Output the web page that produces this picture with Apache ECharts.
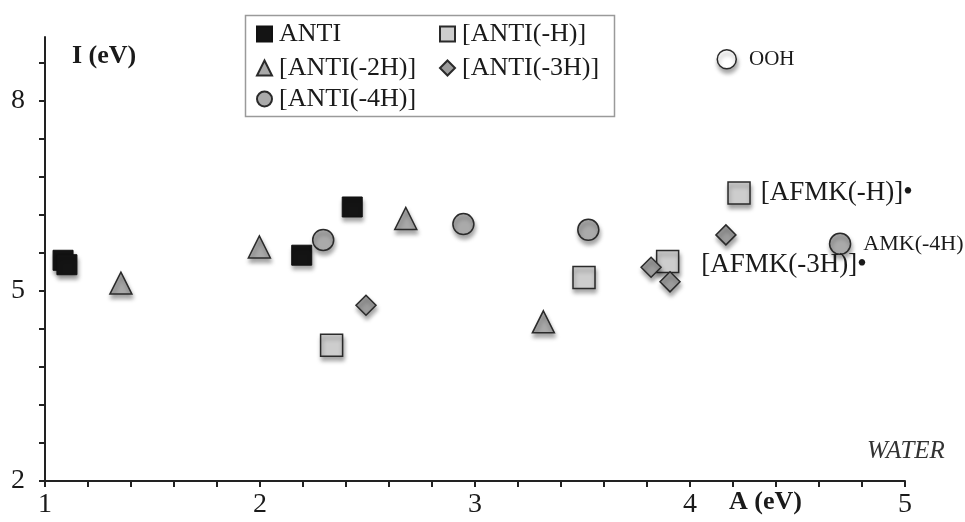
<!DOCTYPE html>
<html><head><meta charset="utf-8">
<script src="https://cdn.jsdelivr.net/npm/echarts@6/dist/echarts.min.js"></script>
<style>html,body{margin:0;padding:0;background:#fff}#c{width:965px;height:522px}</style>
</head><body><div id="c"></div>
<script>
// Data
const antiX = [1.084, 1.102, 2.194, 2.429];
const antiY = [5.48, 5.41, 5.56, 6.32];
const antiHX = [2.333, 3.507, 3.896, 4.228];
const antiHY = [4.14, 5.21, 5.46, 6.54];
const antiHLabels = ['', '', '', '[AFMK(-H)]•'];
const anti2HX = [1.353, 1.997, 2.678, 3.318];
const anti2HY = [5.12, 5.69, 6.14, 4.51];
const anti3HX = [2.493, 3.819, 3.907, 4.167];
const anti3HY = [4.77, 5.37, 5.14, 5.88];
const anti3HLabels = ['', '', '', '[AFMK(-3H)]•'];
const anti4HX = [2.294, 2.946, 3.527, 4.698];
const anti4HY = [5.80, 6.05, 5.96, 5.74];
const anti4HLabels = ['', '', '', 'AMK(-4H)'];
const oohX = [4.171];
const oohY = [8.65];
const oohLabels = ['OOH'];
const xLabelValues = [1, 2, 3, 4, 5];
const xTickValues = [1, 1.2, 1.4, 1.6, 1.8, 2, 2.2, 2.4, 2.6, 2.8, 3, 3.2, 3.4, 3.6, 3.8, 4, 4.2, 4.4, 4.6, 4.8, 5];
const yLabelValues = [2, 5, 8];
const yTickValues = [2, 2.6, 3.2, 3.8, 4.4, 5, 5.6, 6.2, 6.8, 7.4, 8, 8.6];
const seriesNames = ['ANTI', '[ANTI(-H)]', '[ANTI(-2H)]', '[ANTI(-3H)]', '[ANTI(-4H)]'];

const FONT = '"Liberation Serif", "DejaVu Serif", serif';
const shadow = {opacity: 1, shadowBlur: 4, shadowOffsetY: 4, shadowOffsetX: 1, shadowColor: 'rgba(0,0,0,0.35)'};

function pts(xs, ys, labels, labelCfg) {
  return xs.map((x, i) => {
    const d = {value: [x, ys[i]]};
    if (labels && labels[i]) {
      d.label = Object.assign({show: true, formatter: labels[i]}, labelCfg[labels[i]] || {});
    }
    return d;
  });
}
const labelCfg = {
  '[AFMK(-H)]•': {position: 'right', distance: 10, fontSize: 27, fontFamily: FONT, color: '#1a1a1a'},
  '[AFMK(-3H)]•': {position: [-14, 27], fontSize: 27, fontFamily: FONT, color: '#1a1a1a'},
  'AMK(-4H)': {position: 'right', distance: 12, fontSize: 22, fontFamily: FONT, color: '#1a1a1a'},
  'OOH': {position: 'right', distance: 12, fontSize: 21, fontFamily: FONT, color: '#1a1a1a'}
};

const chart = echarts.init(document.getElementById('c'), null, {renderer: 'canvas'});

function legendAt(name, left, top) {
  return {
    data: [name], left: left, top: top, padding: 0,
    itemWidth: 15, itemHeight: 15, itemGap: 0,
    textStyle: {fontFamily: FONT, fontSize: 26, color: '#1a1a1a', padding: [0, 0, 0, 2]},
    itemStyle: {shadowBlur: 0, shadowOffsetY: 0, shadowOffsetX: 0, opacity: 1}
  };
}

const option = {
  animation: false,
  backgroundColor: '#fff',
  grid: {left: 45, right: 60, top: 37, bottom: 41, containLabel: false},
  graphic: [
    {type: 'rect', left: 243, top: 13, shape: {width: 369, height: 101}, style: {fill: 'none', stroke: '#9a9a9a', lineWidth: 1.5}, z: 10},
    {type: 'text', left: 867, top: 439, style: {text: 'WATER', font: 'italic 25px ' + FONT, fill: '#333'}}
  ],
  legend: [
    legendAt(seriesNames[0], 256, 21),
    legendAt(seriesNames[1], 439, 21),
    legendAt(seriesNames[2], 256, 55),
    legendAt(seriesNames[3], 439, 55),
    legendAt(seriesNames[4], 256, 86)
  ],
  xAxis: {
    type: 'value', min: 1, max: 5,
    name: 'A (eV)', nameLocation: 'end', nameGap: -176,
    nameTextStyle: {fontFamily: FONT, fontSize: 26, fontWeight: 'bold', color: '#1a1a1a', align: 'left', verticalAlign: 'top', padding: [8, 0, 0, 0]},
    axisLine: {show: true, onZero: false, lineStyle: {color: '#222', width: 2}},
    axisTick: {show: true, length: 6, customValues: xTickValues, lineStyle: {color: '#222', width: 2}},
    axisLabel: {customValues: xLabelValues, margin: 10, fontFamily: FONT, fontSize: 28, color: '#1a1a1a'},
    splitLine: {show: false}
  },
  yAxis: {
    type: 'value', min: 2, max: 9,
    name: 'I (eV)', nameLocation: 'end', nameGap: -32,
    nameTextStyle: {fontFamily: FONT, fontSize: 26, fontWeight: 'bold', color: '#1a1a1a', align: 'left', verticalAlign: 'bottom', padding: [0, 0, 0, 27]},
    axisLine: {show: true, onZero: false, lineStyle: {color: '#222', width: 2}},
    axisTick: {show: true, length: 6, customValues: yTickValues, lineStyle: {color: '#222', width: 2}},
    axisLabel: {customValues: yLabelValues, margin: 20, fontFamily: FONT, fontSize: 28, color: '#1a1a1a'},
    splitLine: {show: false}
  },
  series: [
    {name: seriesNames[0], type: 'scatter', symbol: 'rect', symbolSize: 20,
      itemStyle: Object.assign({color: '#141414', borderColor: '#111', borderWidth: 1}, shadow),
      data: pts(antiX, antiY)},
    {name: seriesNames[1], type: 'scatter', symbol: 'rect', symbolSize: 22,
      itemStyle: Object.assign({color: '#cdcdcd', borderColor: '#2a2a2a', borderWidth: 1.5}, shadow),
      data: pts(antiHX, antiHY, antiHLabels, labelCfg)},
    {name: seriesNames[2], type: 'scatter', symbol: 'triangle', symbolSize: 22,
      itemStyle: Object.assign({color: '#a9a9a9', borderColor: '#2a2a2a', borderWidth: 1.5}, shadow),
      data: pts(anti2HX, anti2HY)},
    {name: seriesNames[3], type: 'scatter', symbol: 'diamond', symbolSize: 20,
      itemStyle: Object.assign({color: '#9c9c9c', borderColor: '#2a2a2a', borderWidth: 1.5}, shadow),
      data: pts(anti3HX, anti3HY, anti3HLabels, labelCfg)},
    {name: seriesNames[4], type: 'scatter', symbol: 'circle', symbolSize: 21,
      itemStyle: Object.assign({color: '#aaaaaa', borderColor: '#2a2a2a', borderWidth: 1.5}, shadow),
      data: pts(anti4HX, anti4HY, anti4HLabels, labelCfg)},
    {name: 'OOH', type: 'scatter', symbol: 'circle', symbolSize: 19,
      itemStyle: Object.assign({color: '#ffffff', borderColor: '#2a2a2a', borderWidth: 1.5}, shadow),
      data: pts(oohX, oohY, oohLabels, labelCfg)}
  ]
};
chart.setOption(option);
</script>
</body></html>
